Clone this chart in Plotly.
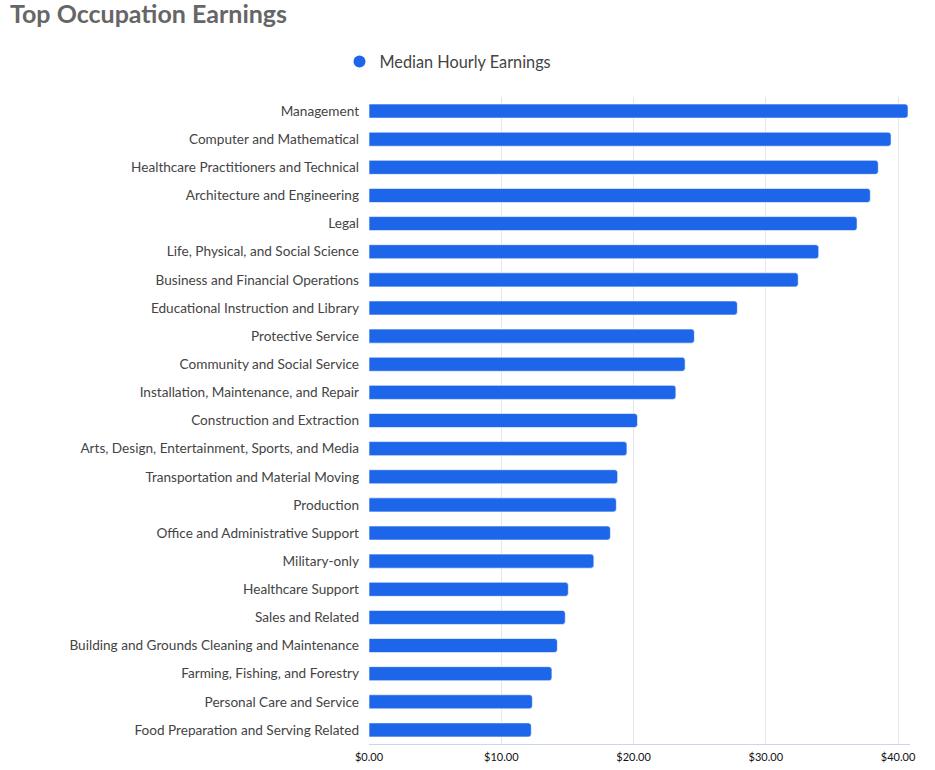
import plotly.graph_objects as go

categories = [
    "Management",
    "Computer and Mathematical",
    "Healthcare Practitioners and Technical",
    "Architecture and Engineering",
    "Legal",
    "Life, Physical, and Social Science",
    "Business and Financial Operations",
    "Educational Instruction and Library",
    "Protective Service",
    "Community and Social Service",
    "Installation, Maintenance, and Repair",
    "Construction and Extraction",
    "Arts, Design, Entertainment, Sports, and Media",
    "Transportation and Material Moving",
    "Production",
    "Office and Administrative Support",
    "Military-only",
    "Healthcare Support",
    "Sales and Related",
    "Building and Grounds Cleaning and Maintenance",
    "Farming, Fishing, and Forestry",
    "Personal Care and Service",
    "Food Preparation and Serving Related",
]
median_hourly = [40.75, 39.47, 38.5, 37.9, 36.9, 34.0, 32.45, 27.85, 24.6, 23.9,
                 23.2, 20.3, 19.5, 18.8, 18.7, 18.25, 17.0, 15.07, 14.84, 14.24,
                 13.83, 12.35, 12.27]
tick_vals = [0, 10, 20, 30, 40]
tick_text = ["$0.00", "$10.00", "$20.00", "$30.00", "$40.00"]

BLUE = "#1d66e9"

fig = go.Figure()
fig.add_trace(go.Bar(
    x=median_hourly, y=categories, orientation="h",
    marker=dict(color=BLUE, line=dict(color="rgba(255,255,255,0.6)", width=1)),
    name="Median Hourly Earnings", showlegend=False,
    hovertemplate="%{y}: $%{x:.2f}<extra></extra>",
))
fig.add_trace(go.Scatter(
    x=[None], y=[None], mode="markers",
    marker=dict(color=BLUE, size=12, symbol="circle"),
    name="Median Hourly Earnings", showlegend=True,
))

fig.update_layout(
    width=935, height=770,
    paper_bgcolor="white", plot_bgcolor="white",
    font=dict(family="Lato, sans-serif", color="#444"),
    margin=dict(l=369, r=25, t=97, b=26),
    bargap=0.5,
    barcornerradius=3,
    title=dict(
        text="<b>Top Occupation Earnings</b>",
        font=dict(size=25, color="#666", family="Lato, sans-serif"),
        xref="container", x=10/935, xanchor="left",
        yref="container", y=1 - 14/770, yanchor="middle",
    ),
    legend=dict(
        orientation="h",
        xref="container", x=448/935, xanchor="center",
        yref="container", y=1 - 62/770, yanchor="middle",
        font=dict(size=16.3, color="#444"),
        itemsizing="constant",
    ),
    xaxis=dict(
        range=[0, 40.9],
        tickvals=tick_vals, ticktext=tick_text,
        tickfont=dict(size=11, color="#111"),
        ticklabelstandoff=3,
        automargin=False,
        showgrid=True, gridcolor="#e6e6e6", gridwidth=1,
        showline=True, linecolor="#ccd6eb", linewidth=1,
        zeroline=False, fixedrange=True,
    ),
    yaxis=dict(
        autorange="reversed",
        automargin=False,
        tickfont=dict(size=13.6, color="#444"),
        ticklabelstandoff=9,
        showgrid=False, zeroline=False, showline=False,
        fixedrange=True,
    ),
)

fig.write_html("out.html", config={"displayModeBar": False},
               post_script="document.body.style.margin='0';")
